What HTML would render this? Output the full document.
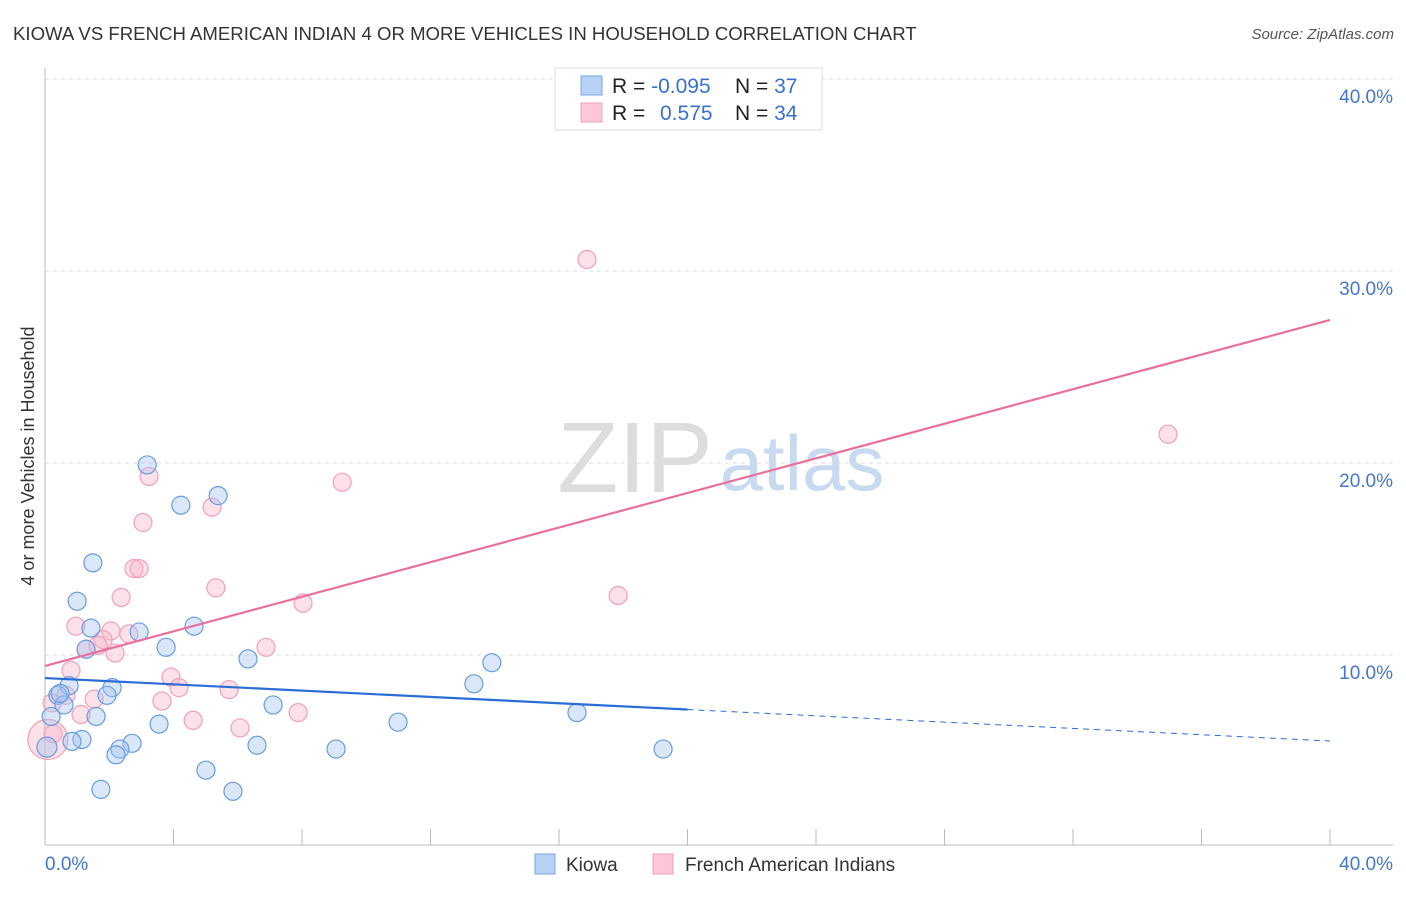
<!DOCTYPE html>
<html><head><meta charset="utf-8"><style>
body{margin:0;background:#fff;font-family:"Liberation Sans",sans-serif}
svg text{font-family:"Liberation Sans",sans-serif}
</style></head><body>
<svg width="1406" height="892" id="c">
<text x="13" y="40" font-size="18.6" fill="#333">KIOWA VS FRENCH AMERICAN INDIAN 4 OR MORE VEHICLES IN HOUSEHOLD CORRELATION CHART</text>
<text x="1394" y="39" font-size="15" fill="#555" text-anchor="end" font-style="italic">Source: ZipAtlas.com</text>
<text x="34" y="456" font-size="18" fill="#333" text-anchor="middle" transform="rotate(-90 34 456)">4 or more Vehicles in Household</text>
<g><text x="635" y="492" font-size="100" fill="#ddd" font-family="Liberation Serif" text-anchor="middle">ZIP</text><text x="802" y="490" font-size="78" fill="#c8daf0" text-anchor="middle">atlas</text></g>
<g id="grid"></g><g id="marks"></g>
<g>
<rect x="555" y="68" width="267" height="62" fill="#fff" stroke="#ddd"/>
<rect x="581" y="76" width="21" height="19" fill="#b8d2f5" stroke="#7aa6e6"/>
<rect x="581" y="103" width="21" height="19" fill="#fcc8d8" stroke="#f0a0b8"/>
<text x="612" y="93" font-size="21" fill="#222">R = <tspan fill="#3a70d0">-0.095</tspan><tspan x="735">N = </tspan><tspan fill="#3a70d0">37</tspan></text>
<text x="612" y="120" font-size="21" fill="#222">R = <tspan x="660" fill="#3a70d0">0.575</tspan><tspan x="735">N = </tspan><tspan fill="#3a70d0">34</tspan></text>
</g>
<g>
<rect x="535" y="854" width="20" height="20" fill="#b8d2f5" stroke="#7aa6e6"/>
<text x="566" y="871" font-size="19" fill="#333">Kiowa</text>
<rect x="653" y="854" width="20" height="20" fill="#fcc8d8" stroke="#f0a0b8"/>
<text x="685" y="871" font-size="19" fill="#333">French American Indians</text>
</g>
</svg>
<script>
const yTicks=[10,20,30,40];
const yTickLabels=["10.0%","20.0%","30.0%","40.0%"];
const xTicks=[0,4,8,12,16,20,24,28,32,36,40];
const kiowaX=[3.18,4.23,5.39,1.49,1.00,1.43,2.93,4.64,1.28,3.77,6.32,13.91,2.09,0.75,0.40,0.59,1.93,0.19,1.59,7.10,13.35,3.55,10.99,16.56,1.15,0.84,2.71,2.33,2.21,6.60,9.06,19.24,0.06,5.01,1.74,5.85,0.47];
const kiowaY=[19.9,17.8,18.3,14.8,12.8,11.4,11.2,11.5,10.3,10.4,9.8,9.6,8.3,8.4,7.9,7.4,7.9,6.8,6.8,7.4,8.5,6.4,6.5,7.0,5.6,5.5,5.4,5.1,4.8,5.3,5.1,5.1,5.2,4.0,3.0,2.9,8.0];
const frenchX=[16.87,34.96,3.24,9.25,5.20,3.05,2.77,2.93,5.32,2.37,8.03,17.84,0.96,2.05,2.61,1.81,1.65,1.28,2.18,6.88,0.81,3.92,4.17,5.73,1.53,3.64,0.65,7.88,1.12,4.61,6.07,0.25,0.09,0.22];
const frenchY=[30.6,21.5,19.3,19.0,17.7,16.9,14.5,14.5,13.5,13.0,12.7,13.1,11.5,11.25,11.1,10.8,10.5,10.3,10.1,10.4,9.2,8.85,8.3,8.2,7.7,7.6,7.9,7.0,6.9,6.6,6.2,5.9,5.6,7.5];
const kiowaTrend=[8.8,5.52];
const frenchTrend=[9.43,27.45];
const xs=v=>45+v*32.125, ys=v=>847-v*19.2;
const NS="http://www.w3.org/2000/svg";
const g=document.getElementById('grid'), m=document.getElementById('marks');
function mk(p,t,a){const e=document.createElementNS(NS,t);for(const k in a)e.setAttribute(k,a[k]);p.appendChild(e);return e;}
yTicks.forEach((t,i)=>{
 const l=mk(g,'line',{x1:45,x2:1393,y1:ys(t),y2:ys(t),stroke:'#ddd','stroke-dasharray':'4,4'});
 
 
 const tx=mk(g,'text',{x:1393,y:ys(t)+24,'font-size':19,fill:'#4477cc','text-anchor':'end'});tx.textContent=yTickLabels[i];
 
 
});
const ax=mk(g,'line',{x1:45,x2:1393,y1:845,y2:845,stroke:'#bbb'});


const ay=mk(g,'line',{x1:45,x2:45,y1:68,y2:845,stroke:'#bbb'});


xTicks.forEach(t=>{const l=mk(g,'line',{x1:xs(t),x2:xs(t),y1:829,y2:845,stroke:'#bbb'});
 
 });
let t1=mk(g,'text',{x:45,y:870,'font-size':19,fill:'#4477cc'});t1.textContent='0.0%';


let t2=mk(g,'text',{x:1393,y:870,'font-size':19,fill:'#4477cc','text-anchor':'end'});t2.textContent='40.0%';


frenchX.forEach((x,i)=>{const c=mk(m,'circle',{cx:xs(x),cy:ys(frenchY[i]),r:(i==32?20:9),fill:'rgba(248,180,200,0.4)',stroke:'#f0a0b8','stroke-width':1.2});
 
 });
kiowaX.forEach((x,i)=>{const c=mk(m,'circle',{cx:xs(x),cy:ys(kiowaY[i]),r:(i==32?10:9),fill:'rgba(160,196,240,0.4)',stroke:'#6a9be0','stroke-width':1.2});
 
 });
const kAt=x=>kiowaTrend[0]+(kiowaTrend[1]-kiowaTrend[0])*x/40;
let l1=mk(m,'line',{x1:xs(0),y1:ys(kAt(0)),x2:xs(20),y2:ys(kAt(20)),stroke:'#2a6dd6','stroke-width':2.2});


let l2=mk(m,'line',{x1:xs(20),y1:ys(kAt(20)),x2:xs(40),y2:ys(kAt(40)),stroke:'#2a6dd6','stroke-width':1,'stroke-dasharray':'6,5'});


let l3=mk(m,'line',{x1:xs(0),y1:ys(frenchTrend[0]),x2:xs(40),y2:ys(frenchTrend[1]),stroke:'#e8709a','stroke-width':2.2});


</script>
</body></html>
